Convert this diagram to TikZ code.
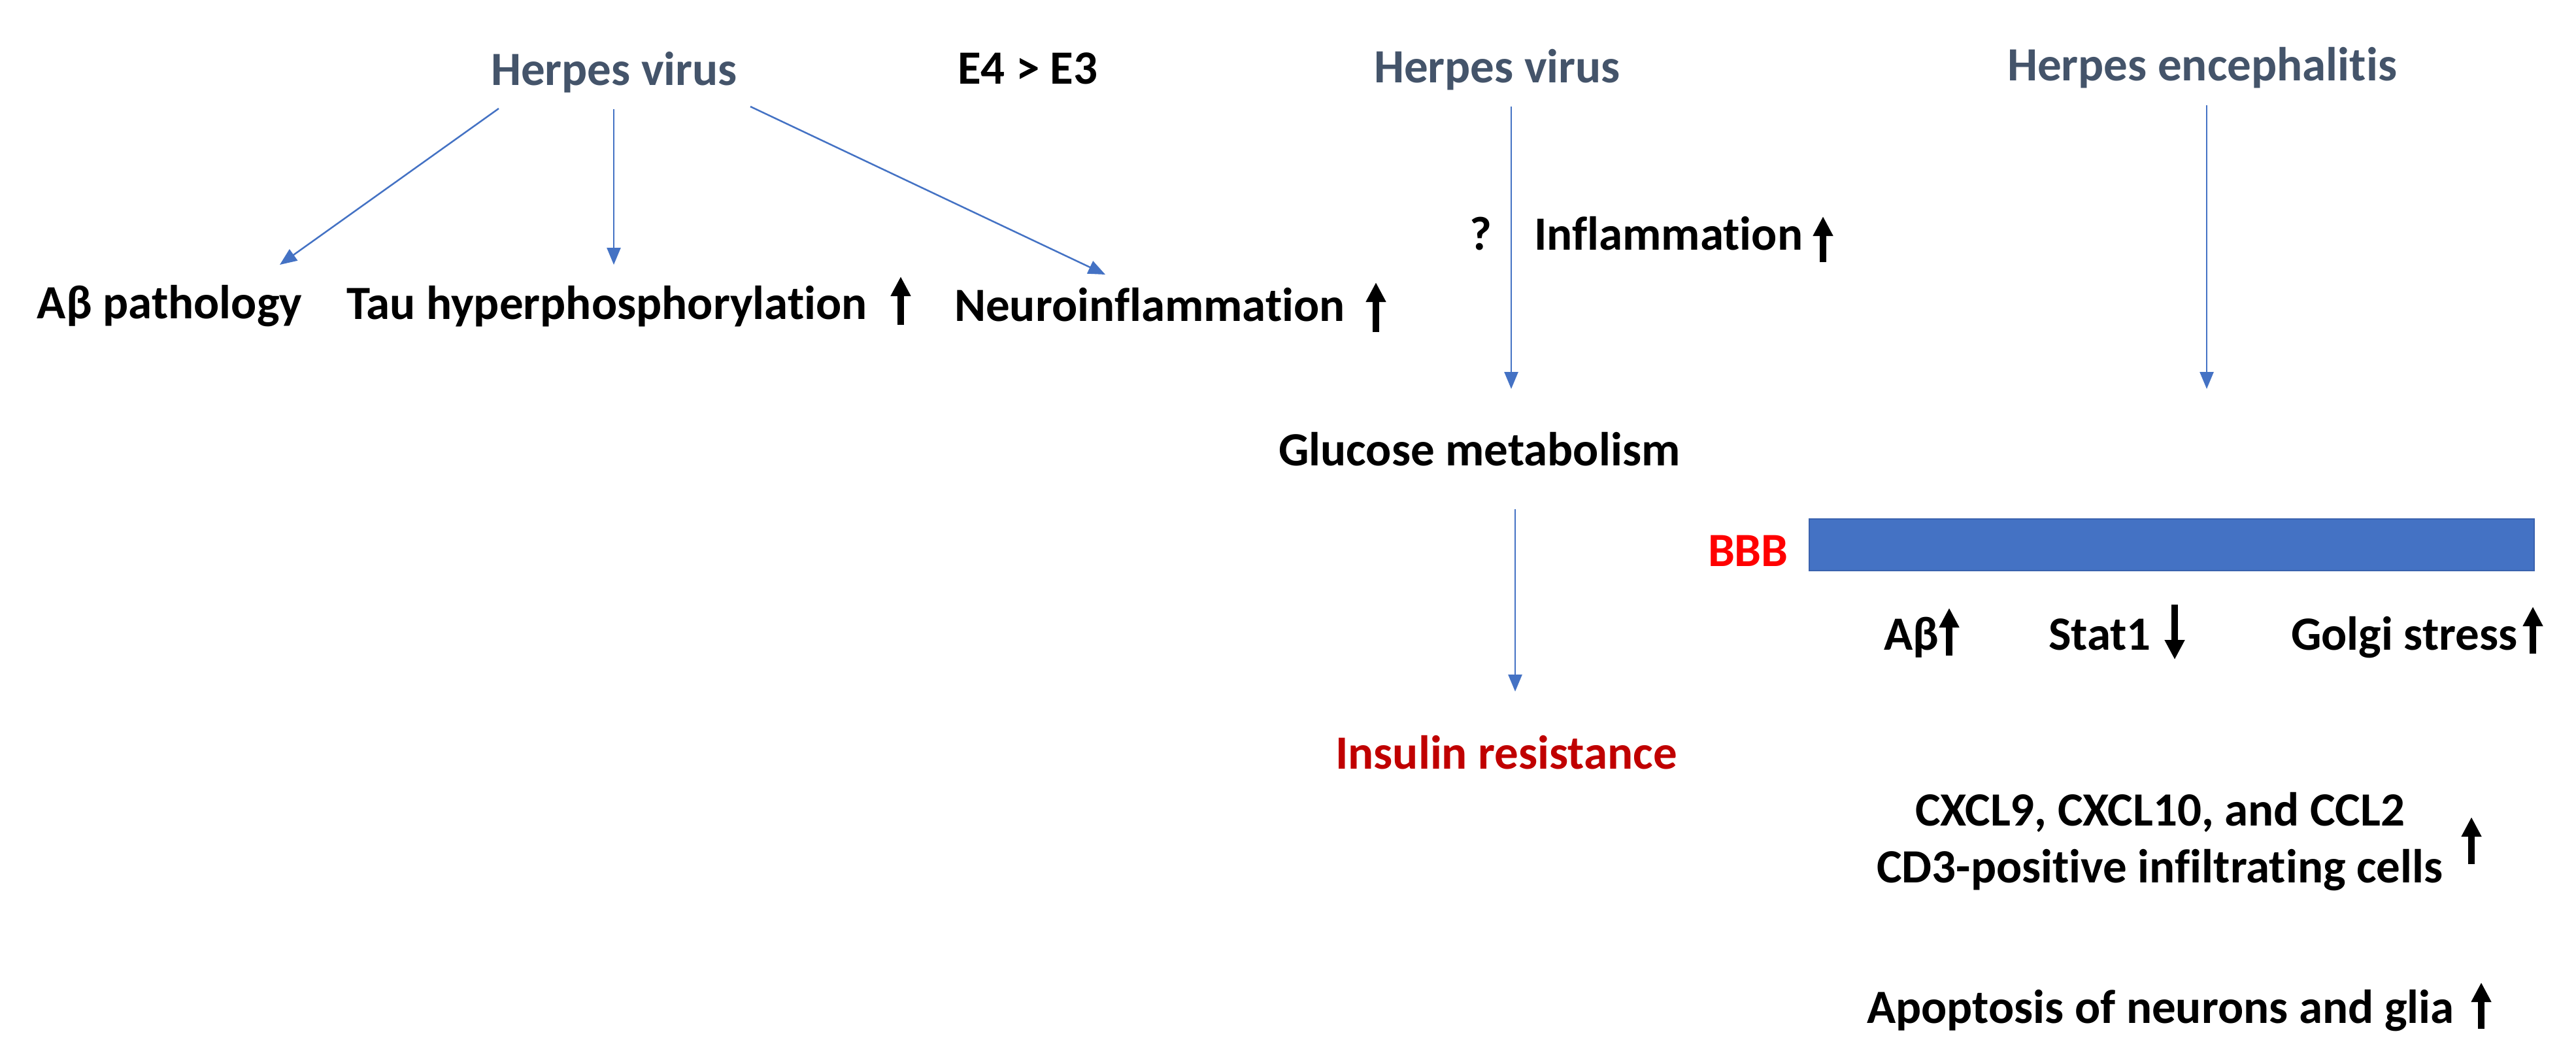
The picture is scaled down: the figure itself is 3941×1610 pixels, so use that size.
\documentclass[tikz,border=0pt]{standalone}
\usepackage{fontspec}
\setmainfont{Carlito}[Ligatures=NoCommon]
\usetikzlibrary{arrows.meta}
\definecolor{hv}{HTML}{44546A}
\definecolor{ab}{HTML}{4472C4}
\definecolor{bbbred}{HTML}{FF0000}
\definecolor{insred}{HTML}{C00000}
\definecolor{bbbedge}{HTML}{3A62AE}
\tikzset{
  lbl/.style={anchor=base west, inner sep=0pt, font=\fontsize{7.3}{8.8}\selectfont\bfseries},
  hvlbl/.style={lbl, text=hv},
  flow/.style={draw=ab, line width=0.25pt, -{Triangle[length=2.6pt,width=2.1pt]}},
  updown/.style={draw=black, line width=0.95pt, -{Triangle[length=3pt,width=2.9pt]}},
}
\begin{document}
\begin{tikzpicture}[x=0.1pt,y=-0.1pt]
\useasboundingbox (0,0) rectangle (3941,1610);
\fill[white] (0,0) rectangle (3941,1610);

% top labels
\node[hvlbl] (hv1) at (749,130) {Herpes virus};
\node[lbl] (e4) at (1463,128) {E4 > E3};
\node[hvlbl] (hv2) at (2100,126) {Herpes virus};
\node[hvlbl] (he) at (3069,123) {Herpes encephalitis};

% left branch
\node[lbl] (abp) at (55,487) {Aβ pathology};
\node[lbl] (tau) at (528,488) {Tau hyperphosphorylation};
\node[lbl] (neu) at (1458,491) {Neuroinflammation};

\coordinate (s1) at (763,166);  \coordinate (t1) at (428,405);
\coordinate (s2) at (939,167);  \coordinate (t2) at (939,405);
\coordinate (s3) at (1148,163); \coordinate (t3) at (1691,420);
\draw[flow] (s1) -- (t1);
\draw[flow] (s2) -- (t2);
\draw[flow] (s3) -- (t3);

\coordinate (tauB) at (1378,497); \coordinate (tauT) at (1378,423);
\draw[updown] (tauB) -- (tauT);
\coordinate (neuB) at (2105,508); \coordinate (neuT) at (2105,432);
\draw[updown] (neuB) -- (neuT);

% middle branch
\node[lbl] (q) at (2246,382) {?};
\node[lbl] (infl) at (2345,382) {Inflammation};
\coordinate (inflB) at (2789,401); \coordinate (inflT) at (2789,331);
\draw[updown] (inflB) -- (inflT);

\node[lbl] (glu) at (1954,712) {Glucose metabolism};
\node[lbl, text=insred] (ins) at (2041,1176) {Insulin resistance};

\coordinate (m1s) at (2312,163); \coordinate (m1t) at (2312,595);
\draw[flow] (m1s) -- (m1t);
\coordinate (m2s) at (2318,779); \coordinate (m2t) at (2318,1058);
\draw[flow] (m2s) -- (m2t);

% right branch
\coordinate (r1s) at (3376,161); \coordinate (r1t) at (3376,595);
\draw[flow] (r1s) -- (r1t);

\node[lbl, text=bbbred] (bbb) at (2611,866) {BBB};
\draw[fill=ab, draw=bbbedge, line width=0.2pt] (2768,794) rectangle (3877,873);

\node[lbl] (abup) at (2880,994) {Aβ};
\coordinate (abB) at (2982,1003); \coordinate (abT) at (2982,930);
\draw[updown] (abB) -- (abT);
\node[lbl] (stat) at (3132,994) {Stat1};
\coordinate (stT) at (3327,925); \coordinate (stB) at (3327,1009);
\draw[updown] (stT) -- (stB);
\node[lbl] (golgi) at (3503,994) {Golgi stress};
\coordinate (goB) at (3875,1000); \coordinate (goT) at (3875,928);
\draw[updown] (goB) -- (goT);

\node[lbl] (cxcl) at (2928,1263) {CXCL9, CXCL10, and CCL2};
\node[lbl] (cd3) at (2869,1350) {CD3-positive infiltrating cells};
\coordinate (cxB) at (3781,1322); \coordinate (cxT) at (3781,1250);
\draw[updown] (cxB) -- (cxT);

\node[lbl] (apo) at (2854,1565) {Apoptosis of neurons and glia};
\coordinate (apB) at (3796,1574); \coordinate (apT) at (3796,1503);
\draw[updown] (apB) -- (apT);
\end{tikzpicture}
\end{document}
